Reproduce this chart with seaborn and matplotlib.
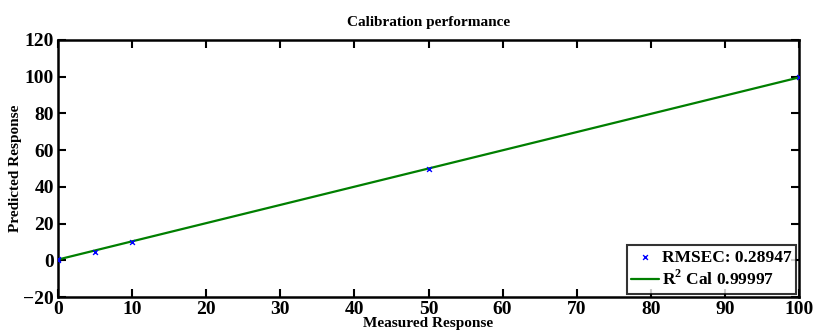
import matplotlib
matplotlib.use("Agg")
import matplotlib.pyplot as plt
import seaborn as sns
import pandas as pd

measured = [0, 0, 5, 10, 50, 100]
predicted = [0.3, 0.6, 4.7, 10.0, 50.0, 100.1]
fit_x = [0, 100]
fit_y = [0.4, 99.6]
xticks = list(range(0, 101, 10))
yticks = list(range(-20, 121, 20))

sns.set_style("white")
plt.rcParams['font.family'] = ['Liberation Serif', 'DejaVu Serif']
plt.rcParams['font.weight'] = 'bold'
plt.rcParams['text.color'] = 'black'
plt.rcParams['axes.labelcolor'] = 'black'
plt.rcParams['xtick.color'] = 'black'
plt.rcParams['ytick.color'] = 'black'
plt.rcParams['mathtext.fontset'] = 'custom'
plt.rcParams['mathtext.rm'] = 'Liberation Serif:bold'
plt.rcParams['mathtext.bf'] = 'Liberation Serif:bold'

fig = plt.figure(figsize=(8.13, 3.34), dpi=100)
ax = fig.add_axes([58/813, 1-297/334, (799-58)/813, (297-40)/334])

pts = pd.DataFrame({"m": measured, "p": predicted})
fit = pd.DataFrame({"x": fit_x, "y": fit_y})
sns.scatterplot(data=pts, x="m", y="p", marker="x", color="#0000ff", s=12,
                linewidth=1.0, ax=ax, label="RMSEC: 0.28947", zorder=3)
sns.lineplot(data=fit, x="x", y="y", color="#007f00", linewidth=1.6, ax=ax,
             label=r"R$^{2}$ Cal 0.99997", zorder=2)

ax.set_xlim(0, 100)
ax.set_ylim(-20, 120)
ax.set_xticks(xticks)
ax.set_yticks(yticks)
ax.set_xticklabels([str(t) for t in xticks], fontsize=14, fontweight='bold')
ax.set_yticklabels([str(t).replace('-', '\u2212') for t in yticks], fontsize=14, fontweight='bold')
ax.tick_params(direction='in', length=6, width=1.5, top=True, right=True, bottom=True, left=True, pad=3)
for s in ax.spines.values():
    s.set_linewidth(1.8)
    s.set_color('black')
ax.set_xlabel("Measured Response", fontsize=11, fontweight='bold', labelpad=-1)
ax.set_ylabel("Predicted Response", fontsize=11, fontweight='bold', labelpad=1)
ax.set_title("Calibration performance", fontsize=11, fontweight='bold', pad=10)

leg = ax.legend(loc='lower right', fontsize=12.5, frameon=True, fancybox=False,
                edgecolor='black', borderaxespad=0.2, handlelength=1.6,
                handletextpad=0.15, borderpad=0.25, labelspacing=0.25)
leg.get_frame().set_linewidth(1.5)
for t in leg.get_texts():
    t.set_fontweight('bold')

fig.savefig("out.png", dpi=100)
